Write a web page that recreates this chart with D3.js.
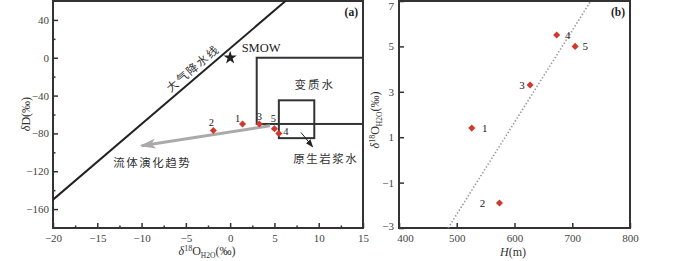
<!DOCTYPE html>
<html>
<head>
<meta charset="utf-8">
<script src="https://cdn.jsdelivr.net/npm/d3@7"></script>
<style>
  body { margin: 0; background: #fff; }
  svg { display: block; }
  .tick text { font-family: "Liberation Serif", "DejaVu Serif", serif; font-size: 11px; fill: #444; }
  .cn { font-family: "Noto Sans CJK SC", sans-serif; font-size: 11.5px; fill: #333; }
</style>
</head>
<body>
<div id="chart"></div>
<script>
// sample values (1-5)
const sampleIds = ["1", "2", "3", "4", "5"];
const d18O = [1.4, -1.9, 3.3, 5.5, 5.0];
const dD = [-70, -77, -70, -80, -75];
const depthH = [526, 574, 627, 673, 705];

// panel (a) reference fields
const mwlX = [-20, 15];                 // meteoric water line dD = 8*d18O + 10
const metamorphicBox = [[3, 0], [15, -70]];
const magmaticBox = [[5.5, -45], [9.5, -85]];
const trendArrow = [[4.5, -72], [-10, -93]];
const magmaArrow = [[8.0, -79], [9.3, -94]];

// panel (b) dotted trend line
const trendLineB = [[485, -3], [732, 7]];

const aXTicks = [-20, -15, -10, -5, 0, 5, 10, 15];
const aYTicks = [-160, -120, -80, -40, 0, 40];
const bXTicks = [400, 500, 600, 700, 800];
const bYTicks = [-3, -1, 1, 3, 5, 7];

const W = 700, H = 261;
const red = "#d2382b";
const ink = "#333";

const svg = d3.select("#chart").append("svg")
  .attr("width", W)
  .attr("height", H);

const defs = svg.append("defs");
defs.append("marker")
  .attr("id", "grayHead")
  .attr("markerUnits", "userSpaceOnUse")
  .attr("viewBox", "0 0 16 10")
  .attr("refX", 14).attr("refY", 5)
  .attr("markerWidth", 16).attr("markerHeight", 10)
  .attr("orient", "auto")
  .append("path").attr("d", "M0,0L16,5L0,10L4,5Z").attr("fill", "#aaa");
defs.append("marker")
  .attr("id", "blackHead")
  .attr("markerUnits", "userSpaceOnUse")
  .attr("viewBox", "0 0 8 6")
  .attr("refX", 7).attr("refY", 3)
  .attr("markerWidth", 8).attr("markerHeight", 6)
  .attr("orient", "auto")
  .append("path").attr("d", "M0,0L8,3L0,6Z").attr("fill", "#222");

const diamond = d3.symbol().type(d3.symbolSquare).size(25);

// ---------- panel (a) ----------
const xA = d3.scaleLinear().domain([-20, 15]).range([53, 363]);
const yA = d3.scaleLinear().domain([-180, 60]).range([228, 1]);

const gA = svg.append("g");

gA.append("defs").append("clipPath").attr("id", "clipA")
  .append("rect").attr("x", 53).attr("y", 1).attr("width", 310).attr("height", 227);

// minor ticks
gA.append("g")
  .attr("transform", `translate(0,${yA.range()[0]})`)
  .call(d3.axisTop(xA).tickValues(d3.range(-17.5, 15, 5)).tickSize(2.5).tickFormat(""))
  .call(g => g.select(".domain").remove())
  .selectAll("line").attr("stroke", ink).attr("stroke-width", 1.5);
gA.append("g")
  .attr("transform", `translate(${xA.range()[0]},0)`)
  .call(d3.axisRight(yA).tickValues(d3.range(-140, 60, 40)).tickSize(2.5).tickFormat(""))
  .call(g => g.select(".domain").remove())
  .selectAll("line").attr("stroke", ink).attr("stroke-width", 1.5);

// major ticks + labels
const axAx = gA.append("g")
  .attr("transform", `translate(0,${yA.range()[0]})`)
  .call(d3.axisBottom(xA).tickValues(aXTicks).tickSize(0).tickPadding(6));
axAx.select(".domain").remove();
gA.append("g")
  .attr("transform", `translate(0,${yA.range()[0]})`)
  .call(d3.axisTop(xA).tickValues(aXTicks).tickSize(5).tickFormat(""))
  .call(g => g.select(".domain").remove())
  .selectAll("line").attr("stroke", ink).attr("stroke-width", 1.5);

const axAy = gA.append("g")
  .attr("transform", `translate(${xA.range()[0]},0)`)
  .call(d3.axisLeft(yA).tickValues(aYTicks).tickSize(0).tickPadding(4));
axAy.select(".domain").remove();
gA.append("g")
  .attr("transform", `translate(${xA.range()[0]},0)`)
  .call(d3.axisRight(yA).tickValues(aYTicks).tickSize(5).tickFormat(""))
  .call(g => g.select(".domain").remove())
  .selectAll("line").attr("stroke", ink).attr("stroke-width", 1.5);

// frame
gA.append("rect")
  .attr("x", 53).attr("y", 1).attr("width", 310).attr("height", 227)
  .attr("fill", "none").attr("stroke", ink).attr("stroke-width", 2);

const plotA = gA.append("g").attr("clip-path", "url(#clipA)");

// meteoric water line
plotA.append("line")
  .attr("x1", xA(mwlX[0])).attr("y1", yA(8 * mwlX[0] + 10))
  .attr("x2", xA(mwlX[1])).attr("y2", yA(8 * mwlX[1] + 10))
  .attr("stroke", "#222").attr("stroke-width", 2);

// boxes
[metamorphicBox, magmaticBox].forEach(b => {
  plotA.append("rect")
    .attr("x", xA(b[0][0])).attr("y", yA(b[0][1]))
    .attr("width", xA(b[1][0]) - xA(b[0][0]))
    .attr("height", yA(b[1][1]) - yA(b[0][1]))
    .attr("fill", "none").attr("stroke", ink).attr("stroke-width", 2);
});

// gray evolution arrow
plotA.append("line")
  .attr("x1", xA(trendArrow[0][0])).attr("y1", yA(trendArrow[0][1]))
  .attr("x2", xA(trendArrow[1][0])).attr("y2", yA(trendArrow[1][1]))
  .attr("stroke", "#aaa").attr("stroke-width", 3)
  .attr("marker-end", "url(#grayHead)");

// magmatic water pointer
plotA.append("line")
  .attr("x1", xA(magmaArrow[0][0])).attr("y1", yA(magmaArrow[0][1]))
  .attr("x2", xA(magmaArrow[1][0])).attr("y2", yA(magmaArrow[1][1]))
  .attr("stroke", "#222").attr("stroke-width", 1)
  .attr("marker-end", "url(#blackHead)");

// SMOW star
plotA.append("path")
  .attr("d", d3.symbol().type(d3.symbolStar).size(55)())
  .attr("transform", `translate(${xA(0)},${yA(0)})`)
  .attr("fill", "#222");
plotA.append("text")
  .attr("x", xA(1.3)).attr("y", yA(11)).attr("dy", "0.35em")
  .style("font-family", "Liberation Serif, serif").style("font-size", "12.5px").attr("fill", "#222")
  .text("SMOW");

const samples = sampleIds.map((id, i) => ({id, o: d18O[i], d: dD[i], h: depthH[i]}));
const labelOffA = {"1": [-5, -6], "2": [-2, -8], "3": [0, -8], "4": [7, -2], "5": [-1, -10]};

plotA.selectAll(".pt").data(samples).join("path")
  .attr("class", "pt")
  .attr("d", diamond)
  .attr("transform", d => `translate(${xA(d.o)},${yA(d.d)}) rotate(45)`)
  .attr("fill", red);
plotA.selectAll(".lbl").data(samples).join("text")
  .attr("class", "lbl")
  .attr("x", d => xA(d.o) + labelOffA[d.id][0])
  .attr("y", d => yA(d.d) + labelOffA[d.id][1])
  .attr("dy", "0.35em").attr("text-anchor", "middle")
  .style("font-family", "Liberation Serif, serif").style("font-size", "10.5px").attr("fill", "#222")
  .text(d => d.id);

// Chinese annotations
const cnA = [
  {t: "变质水", x: 9.55, y: -28.5, rot: 0, ls: 2},
  {t: "原生岩浆水", x: 10.8, y: -107, rot: 0, ls: 1.5},
  {t: "流体演化趋势", x: -8.8, y: -111, rot: 0, ls: 1.5},
  {t: "大气降水线", x: -4.2, y: -11.5, rot: -40.4, ls: 1.5}
];
plotA.selectAll(".cn").data(cnA).join("text")
  .attr("class", "cn")
  .attr("text-anchor", "middle").attr("dy", "0.35em")
  .style("letter-spacing", d => d.ls + "px")
  .attr("transform", d => `translate(${xA(d.x)},${yA(d.y)}) rotate(${d.rot})`)
  .text(d => d.t);

gA.append("text")
  .attr("x", 358).attr("y", 16).attr("text-anchor", "end")
  .style("font-family", "Liberation Serif, serif").style("font-size", "11.5px").style("font-weight", "bold")
  .attr("fill", "#222").text("(a)");

// axis titles
const tA = gA.append("text")
  .attr("x", 207).attr("y", 255).attr("text-anchor", "middle")
  .style("font-family", "Liberation Serif, serif").style("font-size", "12px").attr("fill", "#333");
tA.append("tspan").style("font-style", "italic").text("δ");
tA.append("tspan").attr("dy", -4).style("font-size", "8px").text("18");
tA.append("tspan").attr("dy", 4).text("O");
tA.append("tspan").attr("dy", 3).style("font-size", "7.5px").text("H2O");
tA.append("tspan").attr("dy", -3).text("(‰)");

const tAy = gA.append("text")
  .attr("transform", "translate(30,114) rotate(-90)").attr("text-anchor", "middle")
  .style("font-family", "Liberation Serif, serif").style("font-size", "12px").attr("fill", "#333");
tAy.append("tspan").style("font-style", "italic").text("δ");
tAy.append("tspan").text("D(‰)");

// ---------- panel (b) ----------
const xB = d3.scaleLinear().domain([400, 800]).range([399, 630]);
const yB = d3.scaleLinear().domain([-3, 7]).range([228, 1]);

const gB = svg.append("g");
gB.append("defs").append("clipPath").attr("id", "clipB")
  .append("rect").attr("x", 399).attr("y", 1).attr("width", 231).attr("height", 227);

const bx = gB.append("g")
  .attr("transform", `translate(0,${yB.range()[0]})`)
  .call(d3.axisBottom(xB).tickValues(bXTicks).tickSize(0).tickPadding(6));
bx.select(".domain").remove();
bx.selectAll(".tick text").attr("dx", d => d === 400 ? 6 : 0);
gB.append("g")
  .attr("transform", `translate(0,${yB.range()[0]})`)
  .call(d3.axisTop(xB).tickValues(bXTicks).tickSize(5).tickFormat(""))
  .call(g => g.select(".domain").remove())
  .selectAll("line").attr("stroke", ink).attr("stroke-width", 1.5);

const by = gB.append("g")
  .attr("transform", `translate(${xB.range()[0]},0)`)
  .call(d3.axisLeft(yB).tickValues(bYTicks).tickSize(0).tickPadding(5));
by.select(".domain").remove();
by.selectAll(".tick text").attr("dy", d => d === 7 ? "0.75em" : d === -3 ? "0.1em" : "0.32em");
gB.append("g")
  .attr("transform", `translate(${xB.range()[0]},0)`)
  .call(d3.axisRight(yB).tickValues(bYTicks).tickSize(5).tickFormat(""))
  .call(g => g.select(".domain").remove())
  .selectAll("line").attr("stroke", ink).attr("stroke-width", 1.5);

gB.append("rect")
  .attr("x", 399).attr("y", 1).attr("width", 231).attr("height", 227)
  .attr("fill", "none").attr("stroke", ink).attr("stroke-width", 2);

const plotB = gB.append("g").attr("clip-path", "url(#clipB)");

plotB.append("path")
  .datum(trendLineB)
  .attr("d", d3.line().x(d => xB(d[0])).y(d => yB(d[1])))
  .attr("fill", "none").attr("stroke", "#999").attr("stroke-width", 1.6)
  .attr("stroke-dasharray", "1.4,2");

const labelOffB = {"1": [13, 0], "2": [-17, 0], "3": [-8, 0], "4": [11, 0], "5": [10, 0]};
plotB.selectAll(".pt").data(samples).join("path")
  .attr("class", "pt")
  .attr("d", diamond)
  .attr("transform", d => `translate(${xB(d.h)},${yB(d.o)}) rotate(45)`)
  .attr("fill", red);
plotB.selectAll(".lbl").data(samples).join("text")
  .attr("class", "lbl")
  .attr("x", d => xB(d.h) + labelOffB[d.id][0])
  .attr("y", d => yB(d.o) + labelOffB[d.id][1])
  .attr("dy", "0.35em").attr("text-anchor", "middle")
  .style("font-family", "Liberation Serif, serif").style("font-size", "11px").attr("fill", "#222")
  .text(d => d.id);

gB.append("text")
  .attr("x", 625).attr("y", 16).attr("text-anchor", "end")
  .style("font-family", "Liberation Serif, serif").style("font-size", "11.5px").style("font-weight", "bold")
  .attr("fill", "#222").text("(b)");

const tB = gB.append("text")
  .attr("x", 513).attr("y", 256).attr("text-anchor", "middle")
  .style("font-family", "Liberation Serif, serif").style("font-size", "12px").attr("fill", "#333");
tB.append("tspan").style("font-style", "italic").text("H");
tB.append("tspan").text("(m)");

const tBy = gB.append("text")
  .attr("transform", "translate(379,120) rotate(-90)").attr("text-anchor", "middle")
  .style("font-family", "Liberation Serif, serif").style("font-size", "12px").attr("fill", "#333");
tBy.append("tspan").style("font-style", "italic").text("δ");
tBy.append("tspan").attr("dy", -4).style("font-size", "8px").text("18");
tBy.append("tspan").attr("dy", 4).text("O");
tBy.append("tspan").attr("dy", 3).style("font-size", "7.5px").text("H2O");
tBy.append("tspan").attr("dy", -3).text("(‰)");
</script>
</body>
</html>
